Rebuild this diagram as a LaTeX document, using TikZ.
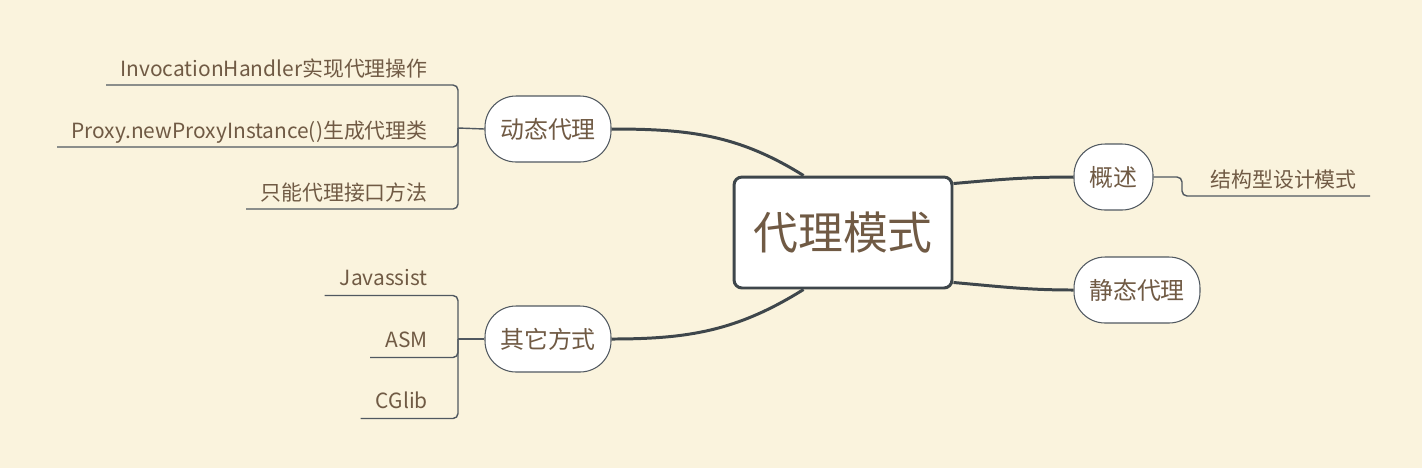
\documentclass[tikz,border=0pt]{standalone}
\usepackage{fontspec}
\setmainfont{Noto Sans CJK SC}
\definecolor{paper}{RGB}{250,243,221}
\definecolor{ink}{RGB}{112,90,68}
\definecolor{wire}{RGB}{62,70,75}
\definecolor{twigc}{RGB}{80,88,96}
\begin{document}
\begin{tikzpicture}[x=0.02cm, y=-0.02cm,
    root/.style={draw=wire, line width=1.7pt, fill=white, rounded corners=0.16cm,
                 minimum width=4.36cm, minimum height=2.22cm, text=ink,
                 font=\fontsize{25.5}{30}\selectfont},
    topic/.style={draw=twigc, line width=0.6pt, fill=white, rounded corners=0.62cm,
                  minimum height=1.32cm, inner xsep=0.3cm, text=ink,
                  font=\fontsize{13.6}{16}\selectfont},
    leaf/.style={inner sep=0pt, text=ink, font=\fontsize{11.9}{14}\selectfont},
    main line/.style={wire, line width=1.7pt},
    twig/.style={twigc, line width=0.8pt, rounded corners=0.1cm}]
    \fill[paper] (0,0) rectangle (1422,468);
    % centre and main branches
    \node[root] (core) at (843,232.5) {代理模式};
    \node[topic, minimum width=2.52cm] (dyn)  at (548,129) {动态代理};
    \node[topic, minimum width=2.52cm] (misc) at (548,339) {其它方式};
    \node[topic, minimum width=1.58cm] (sum)  at (1113.5,177) {概述};
    \node[topic, minimum width=2.52cm] (stat) at (1137,290) {静态代理};
    \draw[main line] ([xshift=1.42cm]core.north west) to[out=148, in=0] (dyn.east);
    \draw[main line] ([xshift=1.42cm]core.south west) to[out=-148, in=0] (misc.east);
    \draw[main line] ([yshift=-0.16cm]core.north east) to[out=5, in=180] (sum.west);
    \draw[main line] ([yshift=0.14cm]core.south east) to[out=-5, in=180] (stat.west);
    % dynamic proxy leaves
    \coordinate (jd) at (458,128);
    \node[leaf, anchor=base east] (d1) at (428,76)  {InvocationHandler实现代理操作};
    \node[leaf, anchor=base east] (d2) at (428,138) {Proxy.newProxyInstance()生成代理类};
    \node[leaf, anchor=base east] (d3) at (428,200) {只能代理接口方法};
    \draw[twig] (dyn.west) -- (jd);
    \foreach \leaf in {d1, d2, d3} {
        \draw[twig] (jd) |- ([xshift=-0.28cm, yshift=-0.18cm]\leaf.base west);
    }
    % other ways leaves
    \coordinate (jo) at (458,339);
    \node[leaf, anchor=base east] (o1) at (428,285) {Javassist};
    \node[leaf, anchor=base east] (o2) at (428,347) {ASM};
    \node[leaf, anchor=base east] (o3) at (428,408) {CGlib};
    \draw[twig] (misc.west) -- (jo);
    \foreach \leaf in {o1, o2, o3} {
        \draw[twig] (jo) |- ([xshift=-0.3cm, yshift=-0.21cm]\leaf.base west);
    }
    % overview leaf
    \coordinate (js) at (1182,177);
    \node[leaf, anchor=base west] (s1) at (1210,187) {结构型设计模式};
    \draw[twig] (sum.east) -- (js) |- ([xshift=0.26cm, yshift=-0.18cm]s1.base east);
\end{tikzpicture}
\end{document}
